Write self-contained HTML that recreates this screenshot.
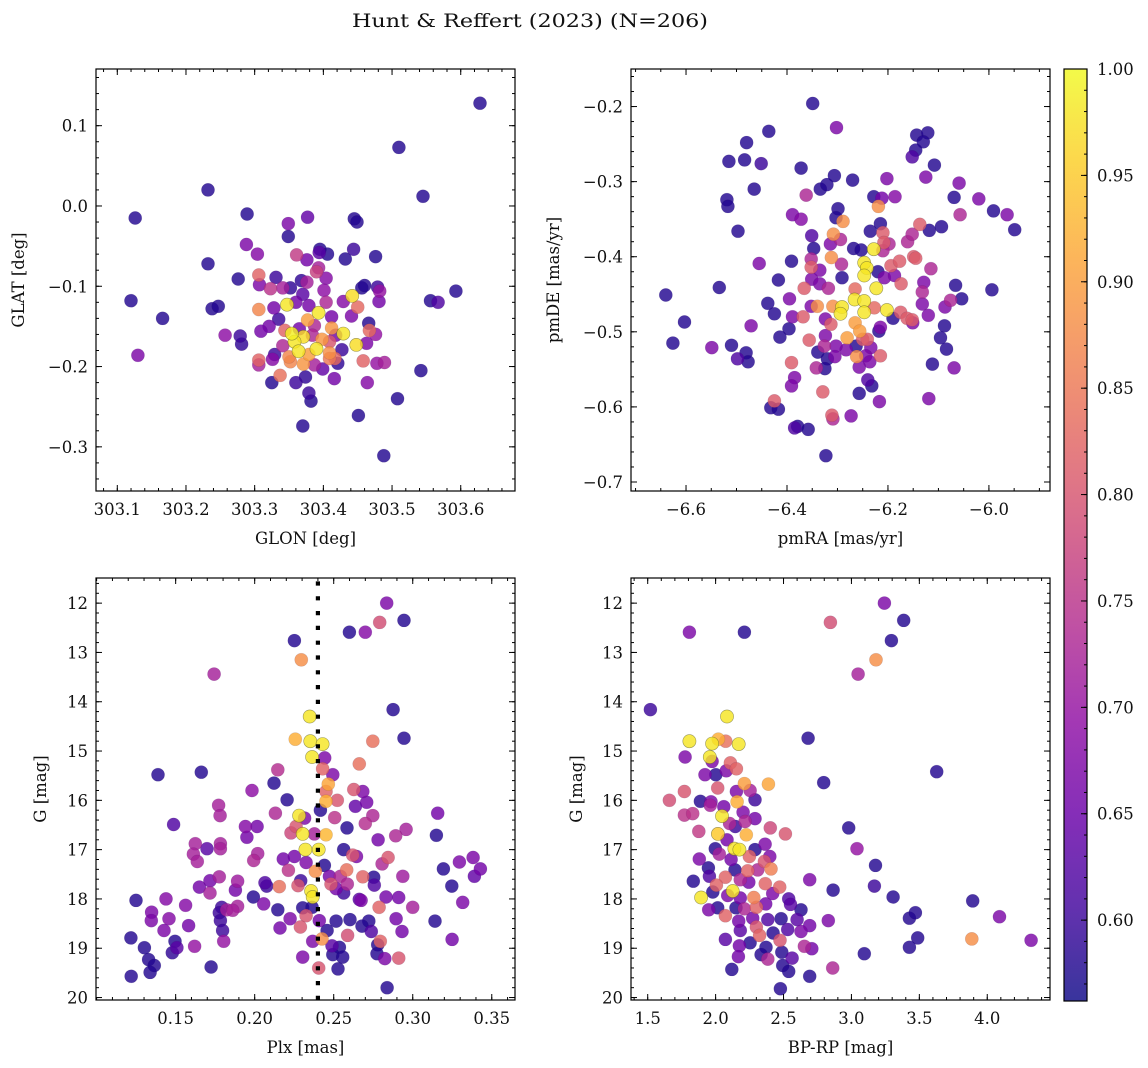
<!DOCTYPE html>
<html><head><meta charset="utf-8"><title>Hunt & Reffert (2023) (N=206)</title>
<style>
html,body{margin:0;padding:0;background:#fff;}
svg{display:block;font-family:"DejaVu Serif","Liberation Serif",serif;}
</style></head>
<body>
<svg id="fig" width="1148" height="1068" viewBox="0 0 1148 1068" xmlns="http://www.w3.org/2000/svg">
<defs><linearGradient id="cbgrad" x1="0" y1="1" x2="0" y2="0"></linearGradient></defs>
<text x="530" y="27" text-anchor="middle" font-size="19" fill="#111" textLength="356" lengthAdjust="spacingAndGlyphs">Hunt &amp; Reffert (2023) (N=206)</text>
</svg>
<script>
// ---------- DATA ----------
const p1Glon=[303.628,303.510,303.545,303.232,303.126,303.289,303.377,303.445,303.449,303.349,303.349,303.288,303.304,303.361,303.376,303.395,303.406,303.394,303.444,303.432,303.476,303.232,303.276,303.306,303.307,303.331,303.390,303.393,303.404,303.368,303.376,303.323,303.341,303.352,303.370,303.401,303.456,303.460,303.479,303.482,303.481,303.120,303.556,303.567,303.593,303.238,303.247,303.306,303.347,303.328,303.442,303.450,303.429,303.393,303.412,303.441,303.377,303.335,303.166,303.321,303.309,303.344,303.354,303.371,303.387,303.412,303.429,303.467,303.466,303.476,303.257,303.279,303.281,303.358,303.398,303.448,303.463,303.427,303.364,303.390,303.409,303.379,303.421,303.417,303.352,303.371,303.387,303.399,303.130,303.306,303.306,303.326,303.329,303.337,303.325,303.360,303.374,303.416,303.458,303.478,303.489,303.464,303.542,303.379,303.382,303.508,303.451,303.370,303.488,303.384,303.409,303.365,303.341,303.418,303.404,303.379,303.360,303.350,303.409];
const p1Glat=[0.128,0.073,0.012,0.020,-0.015,-0.010,-0.014,-0.016,-0.020,-0.022,-0.038,-0.048,-0.060,-0.061,-0.067,-0.054,-0.060,-0.058,-0.054,-0.066,-0.063,-0.072,-0.091,-0.086,-0.098,-0.089,-0.082,-0.077,-0.090,-0.093,-0.095,-0.103,-0.102,-0.102,-0.110,-0.105,-0.102,-0.099,-0.101,-0.106,-0.119,-0.118,-0.118,-0.120,-0.106,-0.128,-0.125,-0.129,-0.123,-0.127,-0.112,-0.126,-0.119,-0.133,-0.138,-0.137,-0.142,-0.141,-0.140,-0.150,-0.156,-0.155,-0.159,-0.163,-0.149,-0.152,-0.159,-0.155,-0.146,-0.160,-0.161,-0.162,-0.172,-0.169,-0.166,-0.173,-0.171,-0.179,-0.181,-0.178,-0.183,-0.185,-0.196,-0.190,-0.194,-0.197,-0.198,-0.203,-0.186,-0.192,-0.198,-0.191,-0.185,-0.211,-0.220,-0.220,-0.213,-0.215,-0.193,-0.196,-0.195,-0.220,-0.205,-0.233,-0.243,-0.240,-0.261,-0.274,-0.311,-0.161,-0.169,-0.153,-0.174,-0.161,-0.120,-0.124,-0.120,-0.188,-0.190];
const p1Prob=[.58,.58,.58,.58,.58,.58,.64,.58,.58,.67,.58,.67,.68,.76,.66,.58,.58,.63,.60,.58,.58,.58,.58,.82,.67,.60,.77,.72,.68,.59,.72,.75,.72,.59,.63,.69,.58,.58,.60,.70,.66,.58,.58,.62,.58,.58,.58,.87,.98,.66,.97,.83,.68,.98,.66,.67,.90,.60,.58,.66,.66,.82,.99,.97,.73,.89,.98,.83,.58,.70,.69,.60,.59,.98,.89,.97,.67,.60,.98,.98,.88,.90,.59,.83,.87,.89,.72,.64,.67,.82,.72,.68,.60,.84,.58,.60,.59,.66,.82,.70,.72,.68,.58,.60,.58,.58,.58,.58,.58,.73,.80,.66,.73,.66,.73,.66,.66,.87,.85];

const p2PmRA=[-6.349,-6.302,-6.436,-6.480,-6.515,-6.484,-6.451,-6.372,-6.143,-6.121,-6.130,-6.145,-6.152,-6.108,-6.125,-6.306,-6.270,-6.202,-6.059,-6.069,-6.020,-5.991,-5.964,-5.949,-6.057,-6.094,-6.118,-6.137,-6.465,-6.334,-6.321,-6.362,-6.519,-6.517,-6.497,-6.389,-6.372,-6.228,-6.212,-6.186,-6.219,-6.299,-6.303,-6.289,-6.215,-6.235,-6.210,-6.208,-6.198,-6.161,-6.152,-6.308,-6.294,-6.351,-6.347,-6.314,-6.268,-6.253,-6.228,-6.210,-6.149,-6.145,-6.247,-6.242,-6.247,-6.223,-6.220,-6.207,-6.194,-6.177,-6.187,-6.174,-6.115,-6.129,-6.132,-6.066,-6.054,-5.994,-6.076,-6.087,-6.132,-6.120,-6.088,-6.096,-6.084,-6.069,-6.112,-6.119,-6.391,-6.455,-6.352,-6.352,-6.335,-6.312,-6.292,-6.291,-6.351,-6.335,-6.318,-6.366,-6.417,-6.534,-6.640,-6.265,-6.266,-6.247,-6.247,-6.202,-6.227,-6.175,-6.162,-6.152,-6.151,-6.190,-6.395,-6.438,-6.425,-6.389,-6.368,-6.352,-6.340,-6.309,-6.291,-6.294,-6.265,-6.256,-6.281,-6.324,-6.313,-6.215,-6.218,-6.250,-6.241,-6.234,-6.215,-6.263,-6.283,-6.262,-6.244,-6.236,-6.257,-6.396,-6.414,-6.471,-6.603,-6.626,-6.549,-6.510,-6.498,-6.481,-6.477,-6.356,-6.324,-6.303,-6.326,-6.339,-6.320,-6.305,-6.325,-6.342,-6.391,-6.385,-6.391,-6.329,-6.257,-6.240,-6.232,-6.217,-6.425,-6.432,-6.417,-6.311,-6.309,-6.273,-6.385,-6.379,-6.358,-6.323];
const p2PmDE=[-0.196,-0.228,-0.233,-0.248,-0.273,-0.271,-0.276,-0.282,-0.238,-0.235,-0.247,-0.258,-0.267,-0.278,-0.294,-0.292,-0.298,-0.296,-0.302,-0.321,-0.323,-0.339,-0.344,-0.364,-0.344,-0.360,-0.365,-0.357,-0.310,-0.310,-0.304,-0.318,-0.324,-0.333,-0.366,-0.344,-0.350,-0.320,-0.322,-0.320,-0.333,-0.336,-0.348,-0.353,-0.356,-0.366,-0.368,-0.381,-0.383,-0.380,-0.370,-0.370,-0.377,-0.372,-0.389,-0.383,-0.389,-0.391,-0.390,-0.392,-0.400,-0.402,-0.408,-0.415,-0.425,-0.442,-0.420,-0.428,-0.412,-0.406,-0.425,-0.436,-0.416,-0.434,-0.447,-0.438,-0.456,-0.444,-0.458,-0.467,-0.463,-0.478,-0.492,-0.508,-0.523,-0.548,-0.543,-0.589,-0.406,-0.409,-0.403,-0.414,-0.418,-0.401,-0.410,-0.428,-0.430,-0.436,-0.442,-0.442,-0.431,-0.441,-0.451,-0.443,-0.457,-0.459,-0.474,-0.471,-0.468,-0.474,-0.482,-0.484,-0.488,-0.482,-0.456,-0.462,-0.476,-0.480,-0.480,-0.466,-0.466,-0.466,-0.467,-0.476,-0.488,-0.499,-0.508,-0.483,-0.490,-0.494,-0.499,-0.510,-0.510,-0.521,-0.532,-0.519,-0.524,-0.533,-0.532,-0.540,-0.547,-0.496,-0.507,-0.492,-0.487,-0.515,-0.521,-0.518,-0.536,-0.528,-0.540,-0.511,-0.505,-0.519,-0.519,-0.527,-0.536,-0.533,-0.549,-0.548,-0.541,-0.561,-0.572,-0.580,-0.582,-0.564,-0.572,-0.593,-0.592,-0.601,-0.603,-0.611,-0.616,-0.612,-0.628,-0.626,-0.630,-0.665];
const p2Prob=[.58,.67,.58,.58,.58,.58,.60,.58,.58,.58,.58,.58,.62,.58,.67,.58,.58,.67,.67,.58,.67,.58,.67,.58,.73,.58,.58,.81,.58,.58,.58,.73,.58,.58,.58,.67,.68,.58,.66,.68,.88,.58,.58,.88,.58,.58,.81,.81,.73,.73,.73,.88,.73,.62,.58,.67,.58,.58,.98,.73,.81,.81,.98,.98,.98,.98,.58,.67,.81,.81,.67,.81,.73,.67,.73,.58,.58,.58,.73,.67,.67,.67,.58,.58,.58,.67,.58,.67,.58,.67,.73,.81,.67,.88,.73,.58,.67,.67,.73,.81,.58,.58,.58,.83,.98,.98,.98,.98,.83,.81,.81,.81,.67,.58,.67,.58,.58,.67,.81,.67,.88,.88,.98,.98,.90,.90,.90,.67,.81,.67,.58,.81,.81,.67,.81,.58,.67,.88,.67,.67,.67,.58,.58,.67,.58,.58,.67,.58,.62,.58,.58,.81,.67,.67,.73,.58,.58,.67,.58,.73,.81,.67,.67,.81,.58,.62,.58,.67,.81,.58,.58,.81,.73,.67,.62,.58,.58,.58];

const p3Plx=[0.2835,0.2791,0.2945,0.2599,0.2700,0.2251,0.2295,0.1743,0.2876,0.2945,0.2348,0.2257,0.2352,0.2430,0.2747,0.2363,0.2443,0.2662,0.2430,0.2494,0.1388,0.1662,0.2146,0.2122,0.1983,0.2466,0.2451,0.2451,0.2523,0.2627,0.2684,0.2709,0.2637,0.2205,0.2416,0.1772,0.1781,0.2131,0.2506,0.2747,0.2700,0.2281,0.2316,0.1487,0.1941,0.2015,0.1951,0.2262,0.2230,0.2304,0.2378,0.2451,0.2584,0.2892,0.2958,0.2781,0.3158,0.3150,0.3382,0.3428,0.3390,0.3295,0.3194,0.3247,0.3316,0.3141,0.3249,0.1624,0.1612,0.1637,0.1698,0.1783,0.1783,0.2019,0.1994,0.2181,0.2251,0.2321,0.2405,0.2325,0.2213,0.2384,0.2441,0.2563,0.2620,0.2644,0.2844,0.2806,0.2582,0.2542,0.2473,0.2684,0.2586,0.2483,0.2515,0.2563,0.2753,0.2757,0.2937,0.1650,0.1717,0.1776,0.1717,0.1892,0.1878,0.2065,0.2076,0.2156,0.2274,0.2291,0.2357,0.2367,0.1992,0.2057,0.2146,0.1249,0.1439,0.1563,0.1348,0.1346,0.1458,0.1426,0.1582,0.1791,0.1776,0.1783,0.1797,0.1823,0.1892,0.1861,0.1804,0.1620,0.1217,0.1302,0.1496,0.1508,0.1479,0.1329,0.1365,0.1338,0.1219,0.1724,0.2224,0.2304,0.2325,0.2289,0.2160,0.2363,0.2409,0.2458,0.2515,0.2603,0.2588,0.2367,0.2426,0.2489,0.2536,0.2494,0.2557,0.2304,0.2405,0.2527,0.2662,0.2673,0.2831,0.2911,0.2787,0.3000,0.2722,0.2679,0.2738,0.2895,0.2932,0.2795,0.2778,0.2774,0.2823,0.2911,0.2838];
const p3G=[12.00,12.39,12.35,12.59,12.59,12.76,13.15,13.44,14.16,14.74,14.30,14.76,14.80,14.86,14.80,15.12,15.14,15.26,15.36,15.48,15.48,15.43,15.38,15.65,15.80,15.67,15.82,16.02,16.00,15.78,15.82,16.04,16.12,15.99,16.20,16.10,16.31,16.26,16.35,16.31,16.47,16.31,16.36,16.49,16.53,16.53,16.75,16.53,16.66,16.68,16.68,16.70,16.56,16.72,16.59,16.80,16.26,16.71,17.16,17.39,17.54,17.25,17.39,17.74,18.07,18.45,18.82,16.88,17.09,17.24,16.98,16.88,16.98,17.08,17.22,17.19,17.14,17.00,17.00,17.26,17.42,17.44,17.32,17.00,17.11,17.14,17.16,17.29,17.41,17.54,17.54,17.55,17.70,17.70,17.79,17.88,17.56,17.72,17.54,17.76,17.63,17.55,17.88,17.64,17.82,17.67,17.74,17.75,17.73,17.63,17.84,17.96,17.96,18.10,18.22,18.03,18.00,18.13,18.27,18.44,18.40,18.64,18.54,18.17,18.28,18.44,18.64,18.22,18.15,18.23,18.86,18.96,18.79,18.99,18.86,18.99,19.09,19.23,19.35,19.49,19.57,19.38,18.40,18.18,18.34,18.57,18.59,18.17,18.44,18.64,18.45,18.42,18.74,18.86,18.81,18.95,18.98,19.13,19.18,19.18,19.40,19.42,18.01,18.03,17.96,17.97,18.17,18.17,18.45,18.55,18.66,18.40,18.66,18.86,18.93,19.11,19.21,19.20,19.80];
const p3Prob=[.67,.79,.58,.58,.68,.58,.88,.72,.58,.58,.98,.92,.98,.98,.84,.98,.67,.84,.82,.67,.58,.58,.74,.58,.69,.91,.82,.92,.80,.80,.67,.66,.64,.58,.58,.72,.72,.73,.75,.73,.74,.98,.67,.62,.68,.66,.66,.80,.78,.98,.72,.93,.58,.73,.72,.66,.66,.58,.67,.66,.64,.67,.58,.58,.67,.58,.66,.72,.72,.72,.63,.72,.72,.72,.73,.66,.66,.98,.98,.67,.75,.88,.58,.58,.80,.67,.80,.73,.84,.73,.66,.82,.73,.80,.66,.60,.58,.62,.71,.66,.66,.72,.72,.71,.66,.62,.60,.84,.80,.60,.98,.98,.58,.67,.58,.58,.68,.68,.67,.67,.68,.67,.66,.60,.60,.60,.60,.72,.72,.72,.70,.70,.58,.58,.58,.63,.59,.58,.58,.58,.58,.58,.67,.58,.80,.80,.66,.58,.66,.58,.58,.58,.79,.67,.88,.63,.58,.58,.58,.67,.80,.58,.63,.67,.66,.66,.82,.72,.58,.58,.62,.66,.66,.82,.58,.58,.67,.80,.58];

const p4BpRp=[3.243,2.845,3.385,1.807,2.212,3.294,3.181,3.049,1.520,2.084,2.681,1.807,1.974,2.020,2.074,2.170,1.775,1.957,1.974,2.109,2.153,2.079,1.922,2.001,3.628,2.796,2.389,2.212,1.770,2.015,2.153,2.254,1.660,1.888,1.966,1.961,2.158,2.290,2.060,2.202,1.770,1.831,2.047,2.103,2.217,2.290,2.145,2.403,2.514,2.980,1.876,2.017,2.226,2.084,2.364,3.041,2.138,2.175,1.998,2.027,2.249,2.290,2.399,1.880,2.114,1.947,2.359,3.177,2.143,2.236,2.310,2.408,1.954,2.072,2.182,2.244,1.836,2.693,2.006,2.366,2.472,2.126,1.979,2.089,2.420,3.169,2.865,1.893,2.182,2.281,2.369,2.538,3.307,3.893,1.949,2.015,2.072,2.150,2.212,2.300,2.551,2.629,3.427,3.471,4.090,2.830,2.170,2.273,2.384,2.482,2.600,2.693,2.300,2.182,2.531,2.629,2.423,2.324,2.072,2.254,2.474,3.488,3.886,4.323,2.175,2.371,2.654,2.708,3.427,3.095,2.335,2.487,2.563,2.384,2.168,2.494,2.538,2.119,2.862,2.693,2.477];
const p4G=[12.00,12.39,12.35,12.59,12.59,12.76,13.15,13.44,14.16,14.30,14.74,14.80,14.85,14.76,14.80,14.86,15.12,15.12,15.21,15.24,15.36,15.40,15.48,15.48,15.42,15.64,15.67,15.66,15.82,15.75,15.82,15.80,16.00,16.02,16.03,16.10,16.03,15.99,16.13,16.24,16.30,16.27,16.32,16.47,16.43,16.37,16.53,16.56,16.68,16.56,16.63,16.68,16.70,16.80,16.89,16.98,16.98,17.00,16.98,17.09,17.14,17.00,17.14,17.19,17.20,17.37,17.24,17.32,17.41,17.43,17.41,17.39,17.54,17.56,17.61,17.66,17.64,17.61,17.72,17.69,17.76,17.84,17.86,17.93,17.89,17.74,17.82,17.97,17.98,17.97,18.10,18.00,17.96,18.04,18.22,18.18,18.34,18.18,18.20,18.17,18.11,18.22,18.39,18.28,18.36,18.44,18.45,18.39,18.42,18.40,18.42,18.54,18.57,18.64,18.62,18.66,18.69,18.74,18.82,18.89,18.84,18.79,18.81,18.84,18.95,18.98,18.96,19.01,18.98,19.11,19.13,19.08,19.20,19.22,19.17,19.35,19.47,19.43,19.40,19.57,19.82];
const p4Prob=[.67,.79,.58,.67,.58,.58,.88,.72,.60,.98,.58,.98,.98,.92,.84,.98,.67,.98,.67,.82,.82,.67,.67,.58,.58,.58,.91,.90,.80,.80,.67,.72,.79,.58,.67,.72,.92,.60,.66,.67,.75,.75,.98,.73,.73,.66,.60,.78,.80,.58,.76,.95,.92,.66,.67,.70,.98,.98,.58,.72,.82,.58,.67,.67,.66,.58,.80,.58,.58,.82,.73,.86,.62,.82,.73,.66,.58,.67,.82,.82,.82,.98,.58,.67,.67,.60,.58,.98,.66,.86,.66,.62,.58,.58,.67,.58,.82,.58,.73,.82,.63,.58,.58,.58,.67,.67,.66,.66,.62,.58,.63,.66,.80,.63,.62,.67,.58,.82,.63,.58,.80,.58,.88,.67,.66,.58,.73,.66,.58,.58,.58,.58,.63,.73,.66,.58,.58,.58,.73,.58,.58];

const cutPlx=[0.240];
const cbTicks=[0.60,0.65,0.70,0.75,0.80,0.85,0.90,0.95,1.00];
const vmin=0.562, vmax=1.0;

// ---------- helpers ----------
const NS="http://www.w3.org/2000/svg";
const svg=document.getElementById('fig');
function mk(tag,attrs,parent){const e=document.createElementNS(NS,tag);for(const k in attrs)e.setAttribute(k,attrs[k]);(parent||svg).appendChild(e);return e;}
const plasma=[[0,13,8,135],[0.1,65,4,157],[0.2,106,0,168],[0.3,143,13,164],[0.4,177,42,144],[0.5,204,71,120],[0.6,225,100,98],[0.7,242,132,75],[0.8,252,166,54],[0.9,252,206,37],[1,240,249,33]];
function cmap(v){let t=(v-vmin)/(vmax-vmin);t=Math.max(0,Math.min(1,t));for(let i=1;i<plasma.length;i++){if(t<=plasma[i][0]){const a=plasma[i-1],b=plasma[i];const f=(t-a[0])/(b[0]-a[0]);return `rgb(${Math.round(a[1]+f*(b[1]-a[1]))},${Math.round(a[2]+f*(b[2]-a[2]))},${Math.round(a[3]+f*(b[3]-a[3]))})`;}}return 'rgb(240,249,33)';}
function lin(d0,d1,r0,r1){return v=>r0+(v-d0)/(d1-d0)*(r1-r0);}
function fmt(v,dec){const s=Math.abs(v).toFixed(dec);return (v<-1e-9?'\u2212':'')+s;}

function panel(cfg){
  const {name,L,R,T,B,xd,yd,xt,xm,yt,ym,xdec,ydec,xlab,ylab,ylabX,xs,ys,ps}=cfg;
  const X=lin(xd[0],xd[1],L,R), Y=lin(yd[0],yd[1],B,T);
  const g=mk('g',{});
  
  
  const cp=mk('clipPath',{id:'clip-'+name},g);mk('rect',{x:L,y:T,width:R-L,height:B-T},cp);
  const pts=mk('g',{'clip-path':`url(#clip-${name})`},g);
  
  
  const idx=ps.map((p,i)=>i).sort((a,b)=>ps[a]-ps[b]);
  idx.forEach(i=>{
    const c=mk('circle',{cx:X(xs[i]).toFixed(1),cy:Y(ys[i]).toFixed(1),r:6.6,fill:cmap(ps[i]),'fill-opacity':0.82,stroke:ps[i]>0.93?'rgba(90,90,40,0.6)':'rgba(40,30,80,0.15)','stroke-width':0.6},pts);
    
    
  });
  if(cfg.extra)cfg.extra(g,X,Y);
  const tk=mk('g',{stroke:'#000','stroke-width':1},g);
  const inX=v=>v>=Math.min(...xd)-1e-9&&v<=Math.max(...xd)+1e-9, inY=v=>v>=Math.min(...yd)-1e-9&&v<=Math.max(...yd)+1e-9;
  xm.filter(inX).forEach(v=>{const x=X(v);mk('line',{x1:x,x2:x,y1:B,y2:B-3},tk);mk('line',{x1:x,x2:x,y1:T,y2:T+3},tk);});
  ym.filter(inY).forEach(v=>{const y=Y(v);mk('line',{x1:L,x2:L+3,y1:y,y2:y},tk);mk('line',{x1:R,x2:R-3,y1:y,y2:y},tk);});
  xt.filter(inX).forEach(v=>{const x=X(v);mk('line',{x1:x,x2:x,y1:B,y2:B-6},tk);mk('line',{x1:x,x2:x,y1:T,y2:T+6},tk);
    const t=mk('text',{x:x,y:B+24,'text-anchor':'middle','font-size':16.5,fill:'#111'},g);t.textContent=fmt(v,xdec);
    
    });
  yt.filter(inY).forEach(v=>{const y=Y(v);mk('line',{x1:L,x2:L+6,y1:y,y2:y},tk);mk('line',{x1:R,x2:R-6,y1:y,y2:y},tk);
    const t=mk('text',{x:L-8,y:y+6,'text-anchor':'end','font-size':16.5,fill:'#111'},g);t.textContent=fmt(v,ydec);
    
    });
  const fr=mk('rect',{x:L,y:T,width:R-L,height:B-T,fill:'none',stroke:'#000','stroke-width':1.2},g);
  
  
  const xl=mk('text',{x:(L+R)/2,y:B+53,'text-anchor':'middle','font-size':16.5,fill:'#111'},g);xl.textContent=xlab;
  
  
  const yc=(T+B)/2;
  const yl=mk('text',{x:ylabX,y:yc,'text-anchor':'middle','font-size':16.5,fill:'#111',transform:`rotate(-90 ${ylabX} ${yc})`},g);yl.textContent=ylab;
  
  
}
function range(a,b,s){const r=[];for(let v=a;v<=b+s/2;v+=s)r.push(+v.toFixed(4));return r;}

panel({name:'glon-glat',L:96,R:515,T:69,B:491,xd:[303.069,303.679],yd:[-0.355,0.1706],
  xt:range(303.1,303.6,0.1),xm:range(303.08,303.68,0.02),yt:range(-0.3,0.1,0.1),ym:range(-0.36,0.16,0.02),
  xdec:1,ydec:1,xlab:'GLON [deg]',ylab:'GLAT [deg]',ylabX:24,xs:p1Glon,ys:p1Glat,ps:p1Prob});
panel({name:'proper-motion',L:631,R:1050,T:69,B:491,xd:[-6.709,-5.879],yd:[-0.712,-0.150],
  xt:range(-6.6,-6.0,0.2),xm:range(-6.7,-5.9,0.05),yt:range(-0.7,-0.2,0.1),ym:range(-0.7,-0.16,0.02),
  xdec:1,ydec:1,xlab:'pmRA [mas/yr]',ylab:'pmDE [mas/yr]',ylabX:559,xs:p2PmRA,ys:p2PmDE,ps:p2Prob});
panel({name:'plx-g',L:96,R:515,T:578,B:1000,xd:[0.0996,0.3647],yd:[20.05,11.49],
  xt:range(0.15,0.35,0.05),xm:range(0.10,0.36,0.01),yt:range(12,20,1),ym:range(11.6,20,0.2),
  xdec:2,ydec:0,xlab:'Plx [mas]',ylab:'G [mag]',ylabX:46,xs:p3Plx,ys:p3G,ps:p3Prob,
  extra:(g,X,Y)=>{cutPlx.forEach(v=>{const l=mk('line',{x1:X(v),x2:X(v),y1:1000,y2:578,stroke:'#000','stroke-width':4.2,'stroke-dasharray':'4.2 10.6'},g);
    
    });}});
panel({name:'cmd',L:631,R:1050,T:578,B:1000,xd:[1.377,4.462],yd:[20.05,11.49],
  xt:range(1.5,4.0,0.5),xm:range(1.4,4.4,0.1),yt:range(12,20,1),ym:range(11.6,20,0.2),
  xdec:1,ydec:0,xlab:'BP-RP [mag]',ylab:'G [mag]',ylabX:582,xs:p4BpRp,ys:p4G,ps:p4Prob});

// ---------- colorbar ----------
const grad=document.getElementById('cbgrad');
for(let i=0;i<=20;i++){const v=vmin+(vmax-vmin)*i/20;mk('stop',{offset:(i/20),'stop-color':cmap(v),'stop-opacity':0.82},grad);}
const cb=mk('g',{});


const CT=69,CB=1001,CL=1064,CR=1087;
const CY=lin(vmin,vmax,CB,CT);
mk('rect',{x:CL,y:CT,width:CR-CL,height:CB-CT,fill:'url(#cbgrad)',stroke:'#000','stroke-width':1.2},cb);
for(let v=0.57;v<=1.0001;v+=0.01){const y=CY(v);mk('line',{x1:CR,x2:CR-3,y1:y,y2:y,stroke:'#000','stroke-width':1},cb);}
cbTicks.forEach(v=>{const y=CY(v);mk('line',{x1:CR,x2:CR-6,y1:y,y2:y,stroke:'#000','stroke-width':1},cb);
  const t=mk('text',{x:1097,y:y+6,'font-size':16.5,fill:'#111'},cb);t.textContent=v.toFixed(2);
  
  });
</script>
</body></html>
